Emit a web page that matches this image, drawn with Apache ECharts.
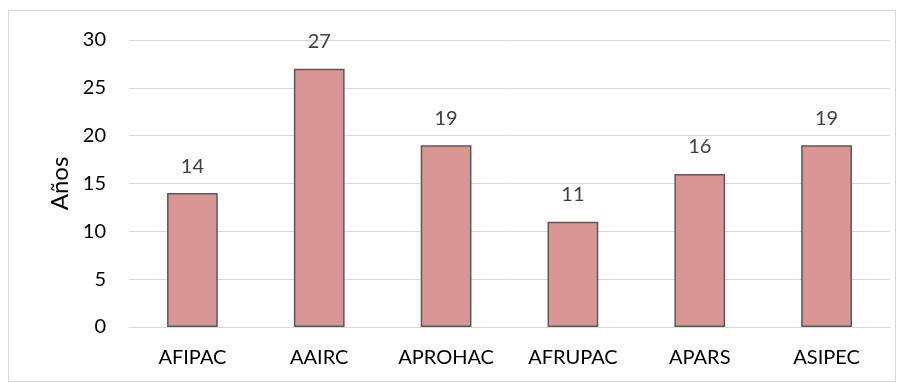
<!DOCTYPE html>
<html>
<head>
<meta charset="utf-8">
<script src="https://cdn.jsdelivr.net/npm/echarts@6/dist/echarts.min.js"></script>
<style>
  html, body { margin: 0; padding: 0; background: #fff; }
  #chart { width: 904px; height: 383px; }
</style>
</head>
<body>
<div id="chart"></div>
<script>
// Años por asociación
const categories = ['AFIPAC', 'AAIRC', 'APROHAC', 'AFRUPAC', 'APARS', 'ASIPEC'];
const years = [14, 27, 19, 11, 16, 19];
const yTicks = { min: 0, max: 30, interval: 5 };

const FONT = 'Lato, "Open Sans", sans-serif';
const chart = echarts.init(document.getElementById('chart'), null, { renderer: 'canvas' });

chart.setOption({
  backgroundColor: '#ffffff',
  animation: false,
  graphic: [{
    type: 'rect',
    shape: { x: 8.5, y: 10.5, width: 887, height: 371 },
    style: { fill: 'none', stroke: '#d9d9d9', lineWidth: 1 },
    silent: true
  }],
  grid: { left: 129, right: 14, top: 40, bottom: 56 },
  xAxis: {
    type: 'category',
    data: categories,
    axisLine: { show: true, lineStyle: { color: '#d9d9d9', width: 1 } },
    axisTick: { show: false },
    axisLabel: { color: '#000', fontFamily: FONT, fontSize: 20, margin: 21 }
  },
  yAxis: {
    type: 'value',
    min: yTicks.min, max: yTicks.max, interval: yTicks.interval,
    name: 'Años',
    nameLocation: 'middle',
    nameGap: 57,
    nameRotate: 90,
    nameTextStyle: { color: '#000', fontFamily: FONT, fontSize: 24 },
    axisLine: { show: false },
    axisTick: { show: false },
    splitLine: { lineStyle: { color: '#d9d9d9', width: 1 } },
    axisLabel: { color: '#000', fontFamily: FONT, fontSize: 20, margin: 23 }
  },
  series: [{
    type: 'bar',
    data: years,
    barWidth: '40%',
    itemStyle: { color: '#d99694', borderColor: '#595959', borderWidth: 1.5 },
    label: {
      show: true,
      position: 'top',
      distance: 17,
      color: '#404040',
      fontFamily: FONT,
      fontSize: 20
    }
  }]
});
</script>
</body>
</html>
